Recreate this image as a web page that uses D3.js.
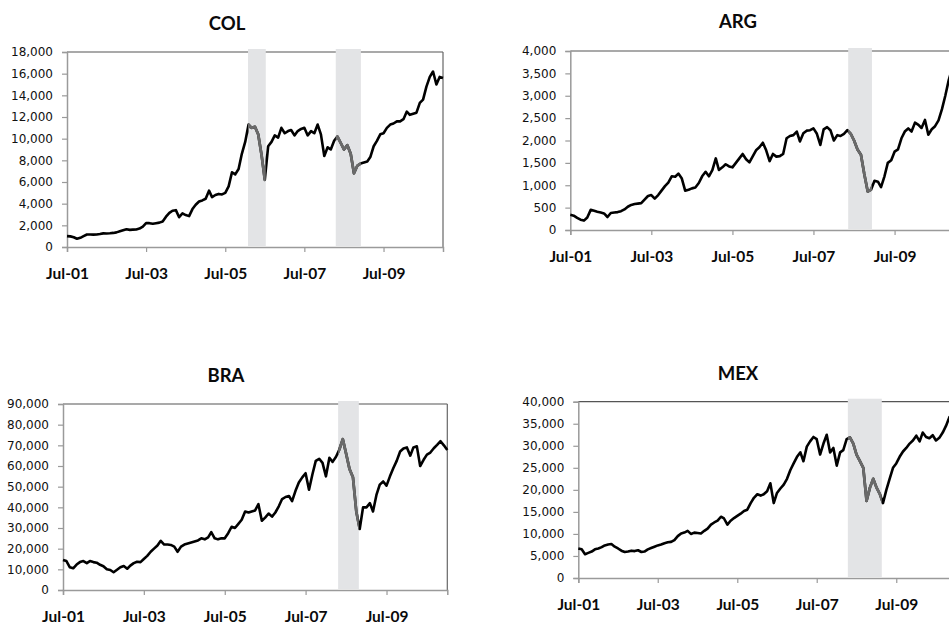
<!DOCTYPE html>
<html>
<head>
<meta charset="utf-8">
<script src="https://cdn.jsdelivr.net/npm/d3@7"></script>
<style>
  html, body { margin: 0; padding: 0; background: #fff; }
  svg { display: block; }
</style>
</head>
<body>
<svg id="chart" width="949" height="624"></svg>
<script>
// ---------- DATA ----------
// Monthly observations, Jul-2001 .. Jan-2011 (115 months)
const startMonth = "2001-07-01";
const endMonth = "2011-01-01";

const colValues = [
  1000, 980, 900, 760, 850, 1000, 1150, 1150, 1140, 1150, 1200, 1260,
  1250, 1270, 1300, 1350, 1450, 1550, 1640, 1580, 1600, 1620, 1700, 1880,
  2200, 2200, 2150, 2200, 2250, 2350, 2800, 3150, 3350, 3400, 2750, 3100,
  2950, 2850, 3500, 3900, 4200, 4300, 4450, 5200, 4600, 4800, 4900, 4850,
  5000, 5600, 6900, 6700, 7200, 8600, 9700, 11300, 11000, 11100, 10400, 8500,
  6200, 9300, 9700, 10300, 10100, 11000, 10500, 10700, 10800, 10300, 10700, 10900,
  11000, 10300, 10700, 10500, 11300, 10400, 8400, 9200, 9000, 9800, 10200, 9600,
  9000, 9400, 8600, 6800, 7500, 7700, 7800, 7900, 8300, 9300, 9800, 10400,
  10500, 11000, 11300, 11400, 11600, 11600, 11800, 12500, 12200, 12300, 12400, 13300,
  13600, 14800, 15700, 16200, 15000, 15700, 15600
];

const argValues = [
  340, 320, 270, 230, 210, 280, 450, 430, 410, 390, 370, 290,
  380, 390, 400, 420, 460, 520, 560, 580, 590, 600, 680, 760,
  780, 700, 780, 880, 980, 1060, 1200, 1190, 1260, 1150, 880, 900,
  930, 950, 1050, 1200, 1300, 1200, 1340, 1600, 1340, 1400, 1470, 1420,
  1400, 1500, 1600, 1700, 1580, 1510, 1650, 1790, 1850, 1950, 1780, 1540,
  1700, 1640, 1650, 1700, 2050, 2100, 2120, 2200, 1980, 2160, 2220, 2230,
  2270, 2150, 1900, 2250, 2300, 2230, 2000, 2120, 2100, 2150, 2230, 2150,
  2000, 1800, 1680, 1250, 860, 900, 1100, 1080, 960, 1200, 1500, 1560,
  1750, 1800, 2050, 2200, 2270, 2200, 2400, 2350, 2280, 2460, 2130, 2250,
  2320, 2450, 2700, 3000, 3350, 3600, 3700
];

const braValues = [
  14500, 14000, 11000, 10500, 12300, 13500, 14000, 13000, 14000, 13500, 13200, 12200,
  11500, 10000, 9700, 8600, 9800, 11000, 11600, 10300, 11800, 13000, 13700, 13500,
  15000, 16500, 18500, 20000, 21500, 23800, 22000, 22000, 21800, 21000, 18500, 21000,
  22000, 22500, 23000, 23500, 24000, 25000, 24500, 25500, 28000, 25000, 24500, 25000,
  25000, 27500, 30600, 30000, 32000, 34000, 38000, 37500, 38000, 38500, 41500, 33500,
  35000, 37000, 35500, 37500, 40500, 44000, 45000, 45500, 43000, 48000, 52000, 54500,
  56500, 48500, 56000, 62500, 63500, 61500, 55000, 64000, 62000, 64500, 68000, 73000,
  66000, 58500, 54500, 38000, 29500, 40000, 40000, 42000, 38000, 46000, 51000, 52500,
  50500, 55000, 59000, 62500, 67000, 68500, 69000, 65000, 69000, 69500, 60000, 63000,
  65500, 66500, 68600, 70200, 72000, 70000, 67700
];

const mexValues = [
  6700, 6500, 5400, 5700, 6000, 6500, 6700, 7000, 7400, 7600, 7700, 7100,
  6700, 6200, 5900, 6000, 6200, 6100, 6300, 5900, 6000, 6500, 6800, 7100,
  7400, 7600, 7900, 8100, 8200, 8600, 9500, 10100, 10300, 10700, 10000, 10300,
  10200, 10100, 10700, 11200, 12100, 12600, 13000, 13900, 13500, 12100, 13000, 13600,
  14100, 14600, 15200, 15500, 17000, 18200, 19000, 18700, 19000, 19700, 21500, 17000,
  19300, 20300, 21200, 22500, 24500, 26000, 27500, 28500, 26500, 29800, 31000, 32000,
  31500, 28000, 30500, 32500, 28500, 29500, 25500, 28500, 29000, 31500, 31900, 30500,
  28000, 26500, 25000, 17500, 20500, 22500, 20500, 19000, 17000, 20000, 22500, 25000,
  26000, 27500, 28700, 29500, 30500, 31200, 32300, 31000, 33000, 32000, 31700, 32400,
  31200, 31800, 33000, 34500, 36500, 37000, 37500
];

// shaded (crisis) periods
const colBands = [["2006-01-27", "2006-07-10"], ["2008-04-16", "2008-12-04"]];
const argBands = [["2008-05-09", "2008-12-09"]];
const braBands = [["2008-04-20", "2008-10-24"]];
const mexBands = [["2008-04-12", "2009-02-18"]];

// tick values
const xTickDates = ["2001-07-01", "2003-07-01", "2005-07-01", "2007-07-01", "2009-07-01"];
const colYTicks = [0, 2000, 4000, 6000, 8000, 10000, 12000, 14000, 16000, 18000];
const argYTicks = [0, 500, 1000, 1500, 2000, 2500, 3000, 3500, 4000];
const braYTicks = [0, 10000, 20000, 30000, 40000, 50000, 60000, 70000, 80000, 90000];
const mexYTicks = [0, 5000, 10000, 15000, 20000, 25000, 30000, 35000, 40000];

const titles = ["COL", "ARG", "BRA", "MEX"];

// ---------- LAYOUT ----------
const parse = d3.timeParse("%Y-%m-%d");
const months = d3.timeMonth.range(parse(startMonth), d3.timeDay.offset(parse(endMonth), 1));

const layout = [
  { x0: 67,    x1: 443,   yTop: 52,    yBot: 247, tx: 227, ty: 30 },
  { x0: 570.3, x1: 955.5, yTop: 51,    yBot: 230, tx: 738, ty: 28 },
  { x0: 63,    x1: 447.3, yTop: 404,   yBot: 590, tx: 226, ty: 382 },
  { x0: 578.3, x1: 956,   yTop: 401.7, yBot: 578, tx: 738, ty: 380 }
];

const series = [colValues, argValues, braValues, mexValues];
const bands = [colBands, argBands, braBands, mexBands];
const yTicks = [colYTicks, argYTicks, braYTicks, mexYTicks];

const svg = d3.select("#chart");
const fmtY = d3.format(",");
const fmtX = d3.timeFormat("%b-%y");

series.forEach((vals, i) => {
  const L = layout[i];
  const ticks = yTicks[i];
  const x = d3.scaleTime().domain([parse(startMonth), parse(endMonth)]).range([L.x0, L.x1]);
  const y = d3.scaleLinear().domain([0, d3.max(ticks)]).range([L.yBot, L.yTop]);
  const g = svg.append("g");
  const data = vals.map((v, k) => ({ date: months[k], value: v }));

  // title
  g.append("text")
    .attr("x", L.tx).attr("y", L.ty)
    .attr("text-anchor", "middle")
    .style("font-family", "Lato, 'Open Sans', sans-serif")
    .style("font-weight", 700)
    .style("font-size", "18.5px")
    .attr("fill", "#0a0a0a")
    .text(titles[i]);

  // top & right border
  g.append("line").attr("x1", L.x0).attr("x2", L.x1).attr("y1", L.yTop).attr("y2", L.yTop)
    .attr("stroke", "#555").attr("stroke-width", 1.2);
  g.append("line").attr("x1", L.x1).attr("x2", L.x1).attr("y1", L.yTop).attr("y2", L.yBot)
    .attr("stroke", "#666").attr("stroke-width", 1.2);

  // shaded bands
  const bandSel = g.append("g");
  bands[i].forEach(b => {
    bandSel.append("rect")
      .attr("x", x(parse(b[0])))
      .attr("width", x(parse(b[1])) - x(parse(b[0])))
      .attr("y", L.yTop - 3)
      .attr("height", L.yBot - L.yTop + 2)
      .attr("fill", "#e3e4e6");
  });

  // clip for grey part of line
  const clipId = "clip" + i;
  const cp = svg.append("defs").append("clipPath").attr("id", clipId);
  bands[i].forEach(b => {
    cp.append("rect")
      .attr("x", x(parse(b[0])))
      .attr("width", x(parse(b[1])) - x(parse(b[0])))
      .attr("y", 0).attr("height", 624);
  });

  // y axis
  const yAxis = d3.axisLeft(y).tickValues(ticks).tickFormat(fmtY).tickSize(5).tickPadding(9);
  const ya = g.append("g").attr("transform", `translate(${L.x0},0)`).call(yAxis);
  ya.select(".domain").attr("stroke", "#9a9a9a").attr("stroke-width", 1.5);
  ya.selectAll(".tick line").attr("stroke", "#9a9a9a").attr("stroke-width", 1.2);
  ya.selectAll(".tick text")
    .style("font-family", "'DejaVu Sans', Verdana, sans-serif")
    .style("font-size", "12px")
    .attr("fill", "#111");

  // x axis
  const xAxis = d3.axisBottom(x).tickValues(xTickDates.map(parse)).tickFormat(fmtX).tickSize(5);
  const xa = g.append("g").attr("transform", `translate(0,${L.yBot})`).call(xAxis);
  xa.select(".domain").attr("stroke", "#9a9a9a").attr("stroke-width", 1.5);
  xa.selectAll(".tick line").attr("stroke", "#9a9a9a").attr("stroke-width", 1.2);
  xa.selectAll(".tick text")
    .attr("y", 32).attr("dy", null)
    .style("font-family", "Lato, 'Open Sans', sans-serif")
    .style("font-weight", 700)
    .style("font-size", "15.5px")
    .attr("fill", "#0a0a0a");

  // line
  const line = d3.line().x(d => x(d.date)).y(d => y(d.value));
  g.append("path").datum(data)
    .attr("d", line)
    .attr("fill", "none")
    .attr("stroke", "#000")
    .attr("stroke-width", 2.6)
    .attr("stroke-linejoin", "round");
  g.append("path").datum(data)
    .attr("d", line)
    .attr("clip-path", `url(#${clipId})`)
    .attr("fill", "none")
    .attr("stroke", "#6a6a6a")
    .attr("stroke-width", 2.8)
    .attr("stroke-linejoin", "round");
});
</script>
</body>
</html>
